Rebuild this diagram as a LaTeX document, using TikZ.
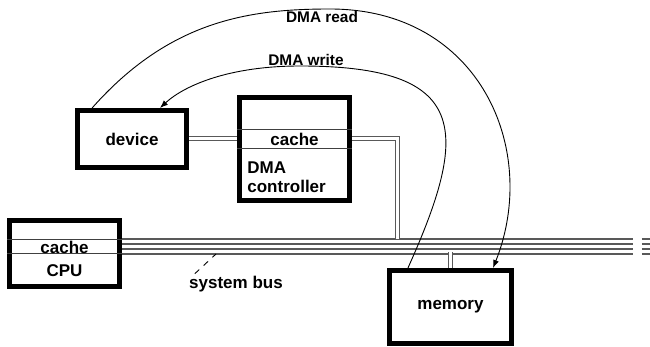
\documentclass[tikz,border=0pt]{standalone}
\usepackage{fontspec}
\setmainfont{Liberation Sans}
\usetikzlibrary{arrows.meta,calc}
\newcommand{\boxfont}{\fontsize{8.5}{10}\selectfont\bfseries}
\newcommand{\flowfont}{\fontsize{7.7}{9}\selectfont\bfseries}
\tikzset{
  unitbox/.style={draw=black, line width=2.5pt, fill=white, inner sep=0pt, font=\boxfont},
  rowline/.style={draw=black!75, line width=0.5pt},
  buslink/.style={draw=black!65, line width=0.5pt, double=white, double distance=1.5pt},
  busline/.style={draw=black!65, line width=0.6pt},
  flowarrow/.style={-{Latex[length=4pt,width=3pt]}, draw=black, line width=0.45pt},
  boxlabel/.style={font=\boxfont, inner sep=0pt},
  flowlabel/.style={font=\flowfont, inner sep=0pt}
}

\begin{document}
\begin{tikzpicture}[x=0.5pt,y=-0.5pt]
    \useasboundingbox (0,0) rectangle (650,347);

    % units
    \node[unitbox, minimum width=54.5pt, minimum height=28.5pt] (device) at (132,139) {device};
    \node[unitbox, minimum width=55pt, minimum height=51.5pt] (dma) at (294.5,149) {};
    \node[unitbox, minimum width=55pt, minimum height=33pt] (cpu) at (64.5,253.5) {};
    \node[unitbox, minimum width=61pt, minimum height=36.5pt] (memory) at (450.5,307) {memory};

    % cache rows
    \draw[rowline] (dma.west |- 0,130) -- (dma.east |- 0,130);
    \draw[rowline] (dma.west |- 0,149) -- (dma.east |- 0,149);
    \draw[rowline] (cpu.west |- 0,240) -- (cpu.east |- 0,240);
    \draw[rowline] (cpu.west |- 0,254) -- (cpu.east |- 0,254);
    \node[boxlabel] (dmacache) at (294.5,139.5) {cache};
    \node[boxlabel, anchor=west, align=left] (dmaname) at (247,177) {DMA\\[-0.6pt]controller};
    \node[boxlabel] (cpucache) at (64.5,247) {cache};
    \node[boxlabel] (cpuname) at (64.5,271) {CPU};

    % system bus
    \foreach \y in {239,244,249,254} {
        \draw[busline] (cpu.east |- 0,\y) -- (633,\y);
        \draw[busline] (642,\y) -- (650,\y);
    }
    \coordinate (dmatap) at (397.5,239);
    \coordinate (bustap) at (216,254);
    \node[boxlabel] (sysbus) at (236,284) {system bus};
    \draw[dashed, line width=0.45pt] ([xshift=3pt,yshift=1pt]sysbus.north west) -- (bustap);

    % links to the bus
    \draw[buslink] (device.east) -- (device.east -| dma.west);
    \draw[buslink] (dma.east |- device.east) -| (dmatap);
    \draw[buslink] (memory.north) -- ++(0,-16);

    % transfers
    \draw[flowarrow] ($(device.north west)!0.15!(device.north east)$)
        .. controls (170,20) and (250,9) .. (330,9)
        .. controls (480,9) and (540,150) .. ($(memory.north west)!0.835!(memory.north east)$);
    \draw[flowarrow] ($(memory.north west)!0.165!(memory.north east)$)
        .. controls (470,130) and (470,66) .. (300,66)
        .. controls (230,66) and (185,85) .. ($(device.north west)!0.745!(device.north east)$);
    \node[flowlabel] (readlbl) at (322,17) {DMA read};
    \node[flowlabel] (writelbl) at (306,60) {DMA write};
\end{tikzpicture}
\end{document}
